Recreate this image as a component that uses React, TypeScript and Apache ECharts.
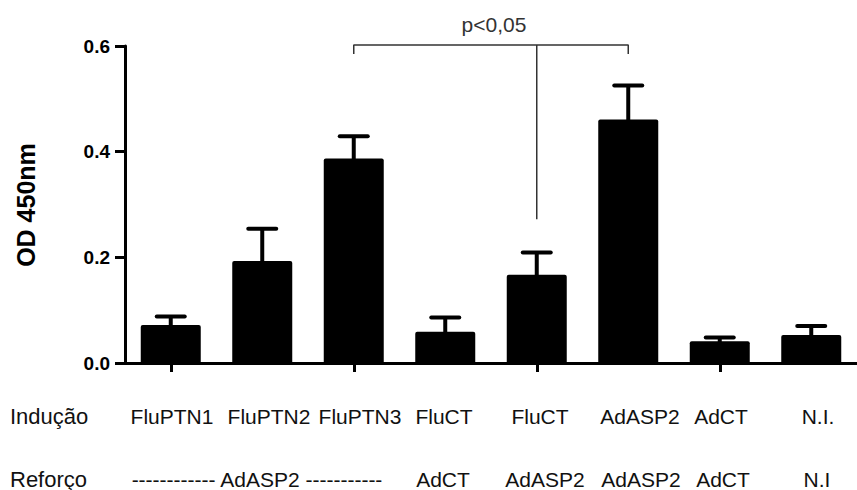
import React, { useEffect, useRef } from "react";
import * as echarts from "echarts";

// ---- data ----
const inducao = ["FluPTN1", "FluPTN2", "FluPTN3", "FluCT", "FluCT", "AdASP2", "AdCT", "N.I."];
const reforco = ["------------ AdASP2 -----------", "AdCT", "AdASP2", "AdASP2", "AdCT", "N.I"];
const categories = [
  "FluPTN1 / AdASP2",
  "FluPTN2 / AdASP2",
  "FluPTN3 / AdASP2",
  "FluCT / AdCT",
  "FluCT / AdASP2",
  "AdASP2 / AdASP2",
  "AdCT / AdCT",
  "N.I. / N.I",
];
const means = [0.072, 0.193, 0.387, 0.059, 0.167, 0.461, 0.041, 0.053];
const errors = [0.02, 0.065, 0.046, 0.031, 0.046, 0.068, 0.011, 0.021];
const yMin = 0;
const yMax = 0.6;
const yInterval = 0.2;
const yAxisTitle = "OD 450nm";
const rowTitles = ["Indução", "Reforço"];
const sigLabel = "p<0,05";
// bracket: from group index 2 to group index 5, stem down at group index 4
const bracketFrom = 2;
const bracketTo = 5;
const bracketStem = 4;
const bracketLevel = 0.602;
const bracketTickLevel = 0.585;
const bracketStemBottom = 0.272;

// ---- layout (pixel positions of free text) ----
const row1X = [172, 269, 360, 444, 540, 640, 721, 818];
const row2X = [257, 443, 545, 641, 723, 817];
const row1Y = 416;
const row2Y = 479;

export default function App() {
  const ref = useRef<HTMLDivElement>(null);

  useEffect(() => {
    if (!ref.current) return;
    const chart = echarts.init(ref.current, undefined, { renderer: "svg" });
    const textFont = "'Liberation Sans', Arial, sans-serif";
    const rowFont = `21px ${textFont}`;

    const graphics: any[] = [];
    graphics.push({
      type: "text",
      x: 26,
      y: 205,
      rotation: Math.PI / 2,
      style: {
        text: yAxisTitle,
        fill: "#000",
        font: `bold 25px ${textFont}`,
        align: "center",
        verticalAlign: "middle",
      },
    });
    graphics.push({
      type: "text",
      x: 494,
      y: 24,
      style: {
        text: sigLabel,
        fill: "#333",
        font: `21px ${textFont}`,
        align: "center",
        verticalAlign: "middle",
      },
    });
    graphics.push({
      type: "text",
      x: 10,
      y: row1Y,
      style: { text: rowTitles[0], fill: "#111", font: `22px ${textFont}`, align: "left", verticalAlign: "middle" },
    });
    graphics.push({
      type: "text",
      x: 10,
      y: row2Y,
      style: { text: rowTitles[1], fill: "#111", font: `22px ${textFont}`, align: "left", verticalAlign: "middle" },
    });
    inducao.forEach((t, i) => {
      graphics.push({
        type: "text",
        x: row1X[i],
        y: row1Y,
        style: { text: t, fill: "#111", font: rowFont, align: "center", verticalAlign: "middle" },
      });
    });
    reforco.forEach((t, i) => {
      graphics.push({
        type: "text",
        x: row2X[i],
        y: row2Y,
        style: { text: t, fill: "#111", font: rowFont, align: "center", verticalAlign: "middle" },
      });
    });

    chart.setOption({
      animation: false,
      grid: { left: 125, top: 46, width: 744, height: 317, containLabel: false },
      xAxis: {
        type: "category",
        data: categories,
        axisLine: { show: true, lineStyle: { color: "#000", width: 3 } },
        axisTick: { show: true, alignWithLabel: true, length: 9, lineStyle: { color: "#000", width: 3 } },
        axisLabel: { show: false },
        splitLine: { show: false },
      },
      yAxis: {
        type: "value",
        min: yMin,
        max: yMax,
        interval: yInterval,
        axisLine: { show: true, lineStyle: { color: "#000", width: 3 } },
        axisTick: { show: true, length: 10, lineStyle: { color: "#000", width: 3 } },
        axisLabel: {
          margin: 15,
          color: "#000",
          fontFamily: textFont,
          fontWeight: "bold",
          fontSize: 19,
          formatter: (v: number) => v.toFixed(1),
        },
        splitLine: { show: false },
      },
      series: [
        {
          type: "bar",
          data: means,
          barWidth: 60,
          itemStyle: { color: "#000", borderRadius: [2, 2, 0, 0] },
          z: 2,
        },
        {
          type: "custom",
          data: means.map((m, i) => [i, m, errors[i]]),
          encode: { x: 0, y: 1 },
          z: 3,
          renderItem: (params: any, api: any) => {
            const i = api.value(0);
            const m = api.value(1);
            const e = api.value(2);
            const base = api.coord([i, m]);
            const top = api.coord([i, m + e]);
            return {
              type: "group",
              children: [
                {
                  type: "line",
                  shape: { x1: base[0], y1: base[1] + 1, x2: top[0], y2: top[1] + 2 },
                  style: { stroke: "#000", lineWidth: 4 },
                },
                {
                  type: "line",
                  shape: { x1: top[0] - 14, y1: top[1] + 2, x2: top[0] + 14, y2: top[1] + 2 },
                  style: { stroke: "#000", lineWidth: 4, lineCap: "round" },
                },
              ],
            };
          },
        },
        {
          type: "line",
          data: [
            [bracketFrom, bracketTickLevel],
            [bracketFrom, bracketLevel],
            [bracketTo, bracketLevel],
            [bracketTo, bracketTickLevel],
          ],
          symbol: "none",
          clip: false,
          silent: true,
          lineStyle: { color: "#333", width: 1.5 },
          z: 4,
        },
        {
          type: "line",
          data: [
            [bracketStem, bracketLevel],
            [bracketStem, bracketStemBottom],
          ],
          symbol: "none",
          clip: false,
          silent: true,
          lineStyle: { color: "#333", width: 1.5 },
          z: 4,
        },
      ],
      graphic: graphics,
    });

    return () => chart.dispose();
  }, []);

  return (
    <div
      ref={ref}
      style={{ position: "fixed", left: 0, top: 0, width: 857, height: 490, background: "#fff" }}
    />
  );
}
